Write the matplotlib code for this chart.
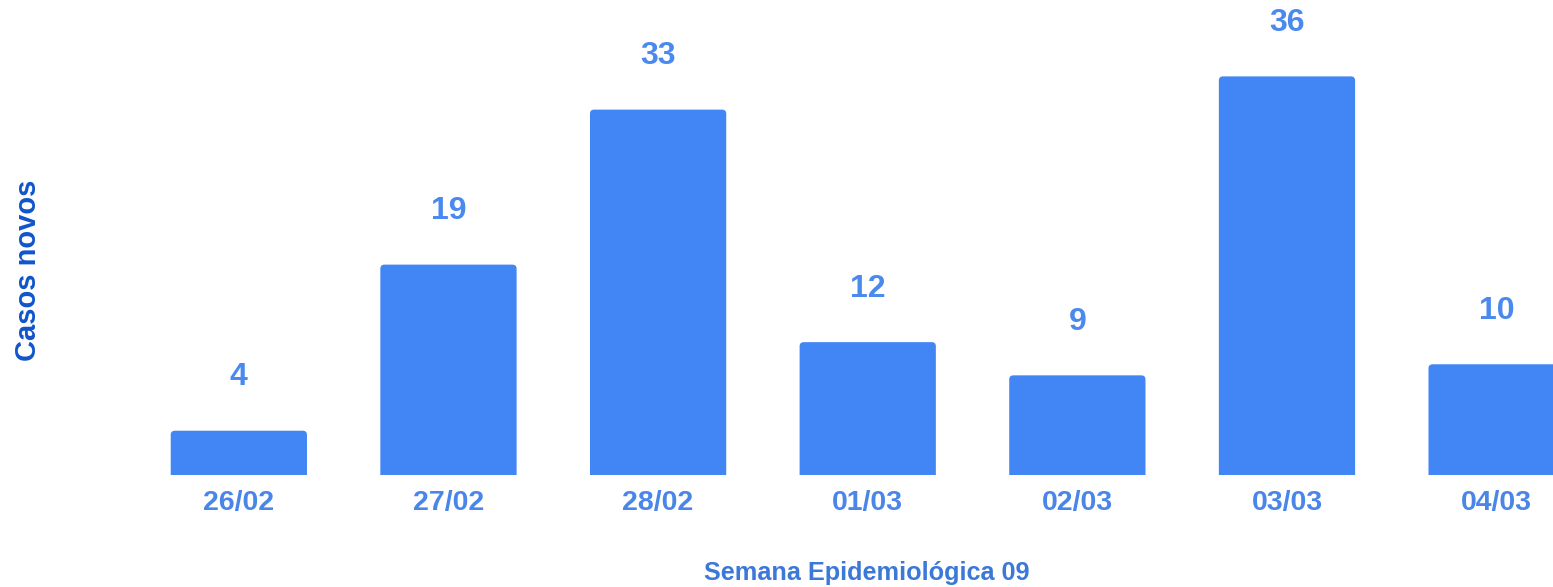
import matplotlib
matplotlib.use("Agg")
import matplotlib.pyplot as plt
from matplotlib.patches import FancyBboxPatch

# dados
datas = ["26/02", "27/02", "28/02", "01/03", "02/03", "03/03", "04/03"]
casos = [4, 19, 33, 12, 9, 36, 10]

COR_BARRA = "#4285F4"
COR_VALOR = "#4A89EE"
COR_TICK = "#4A86E8"
COR_YLABEL = "#1155CC"
COR_XLABEL = "#3C78D8"

plt.rcParams["font.family"] = ["Liberation Sans", "DejaVu Sans"]

fig = plt.figure(figsize=(15.53, 5.87), dpi=100)
ax = fig.add_axes([0.0863, 0.1908, 0.9137, 0.8092])

largura = 0.65
for i, v in enumerate(casos):
    # barra com cantos arredondados (base abaixo de zero, cortada pelo eixo)
    p = FancyBboxPatch(
        (i - largura / 2, -1), largura, v + 1,
        boxstyle="round,pad=0,rounding_size=0.02",
        mutation_aspect=18.5,
        facecolor=COR_BARRA, edgecolor="none",
    )
    ax.add_patch(p)
    ax.annotate(
        str(v), (i, v), xytext=(0, 38.5), textcoords="offset points",
        ha="center", va="center", fontsize=23, fontweight="bold", color=COR_VALOR,
    )

ax.set_xlim(-0.5, 6.269)
ax.set_ylim(0, 42.9)
ax.set_xticks(range(len(datas)))
ax.set_xticklabels(datas, fontsize=20.5, fontweight="bold", color=COR_TICK)
ax.tick_params(axis="x", length=0, pad=11)
ax.set_yticks([])
for s in ax.spines.values():
    s.set_visible(False)

fig.text(28 / 1553, 1 - 270 / 587, "Casos novos", rotation=90, ha="center", va="center",
         fontsize=21, fontweight="bold", color=COR_YLABEL)
fig.text(867 / 1553, 1 - 573 / 587, "Semana Epidemiológica 09", ha="center", va="center",
         fontsize=18.2, fontweight="bold", color=COR_XLABEL)

fig.savefig("out.png", dpi=100, facecolor="white")
